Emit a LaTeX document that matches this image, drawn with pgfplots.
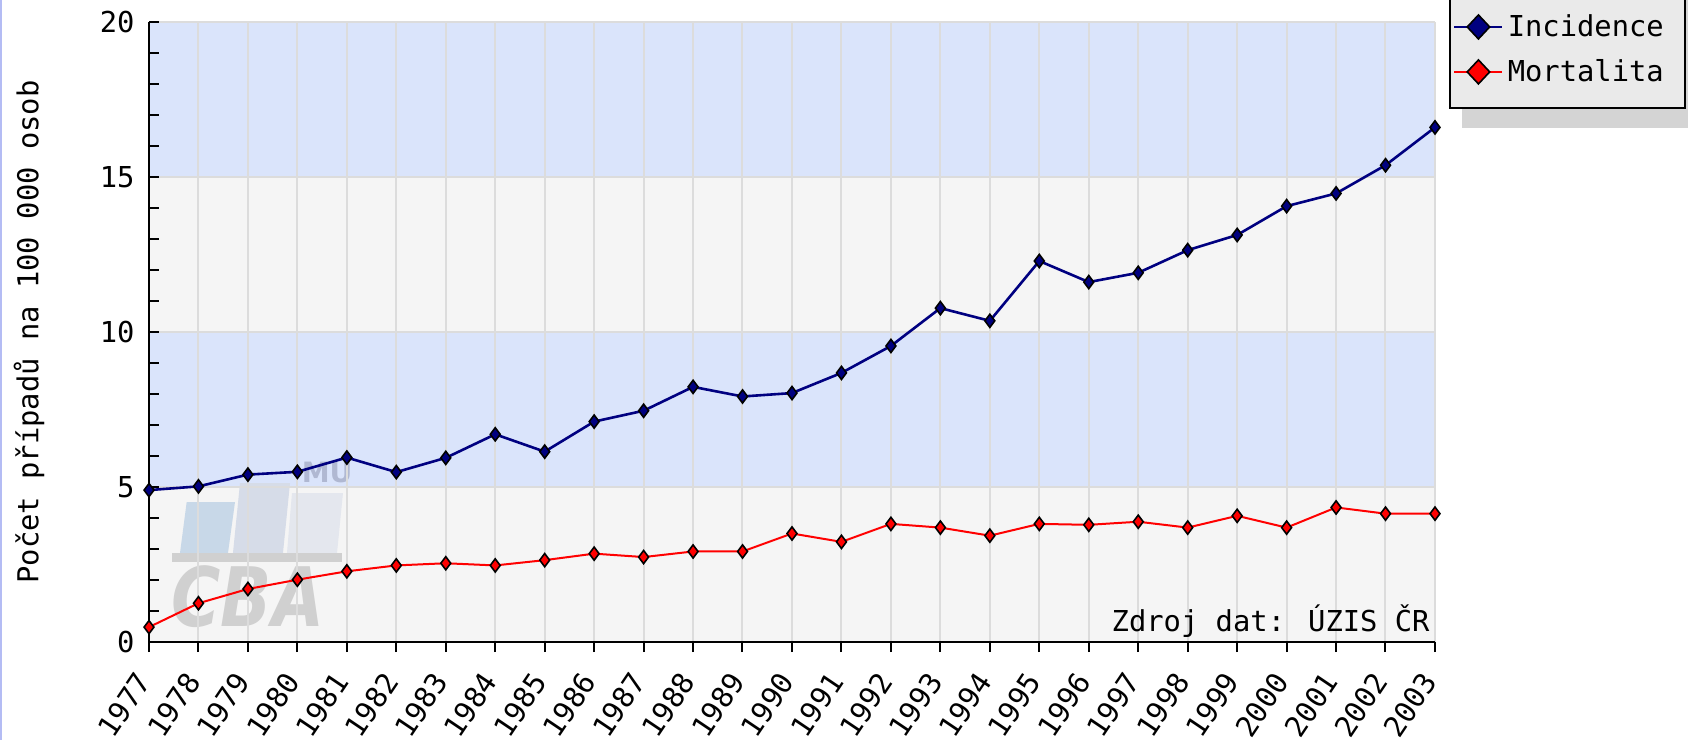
\documentclass[border=0pt]{standalone}
\usepackage{fontspec}
\setmainfont{DejaVu Sans Mono}
\newfontfamily\wmfont{DejaVu Sans}
\usepackage{pgfplots}
\pgfplotsset{compat=1.18}

\definecolor{bandblue}{RGB}{218,228,251}
\definecolor{bandgray}{RGB}{245,245,245}
\definecolor{gridgray}{RGB}{220,220,220}
\definecolor{navy}{RGB}{0,0,128}
\definecolor{legfill}{RGB}{234,234,234}
\definecolor{shadowgray}{RGB}{212,212,212}
\definecolor{edgeblue}{RGB}{180,188,244}
\definecolor{wmA}{RGB}{200,216,232}
\definecolor{wmB}{RGB}{214,220,232}
\definecolor{wmC}{RGB}{228,231,238}
\definecolor{wmgray}{RGB}{208,208,208}
\definecolor{wmmu}{RGB}{176,184,210}

\newcommand\mono{\fontsize{14.4}{17}\selectfont}

\pgfplotstableread{
year inc mort
1977 4.90 0.48
1978 5.02 1.25
1979 5.40 1.71
1980 5.49 2.01
1981 5.95 2.28
1982 5.48 2.47
1983 5.94 2.54
1984 6.70 2.47
1985 6.14 2.64
1986 7.11 2.85
1987 7.46 2.74
1988 8.23 2.92
1989 7.92 2.92
1990 8.03 3.50
1991 8.68 3.23
1992 9.55 3.81
1993 10.77 3.69
1994 10.36 3.43
1995 12.29 3.81
1996 11.61 3.78
1997 11.91 3.88
1998 12.64 3.69
1999 13.13 4.07
2000 14.06 3.69
2001 14.47 4.34
2002 15.38 4.14
2003 16.60 4.14
}\data

\begin{document}
\begin{tikzpicture}
% legend shadow
\fill[shadowgray] (731pt,306pt) rectangle (850pt,380pt);
\begin{axis}[
  set layers,
  at={(74.5pt,49pt)}, anchor=south west,
  scale only axis, width=643pt, height=310pt,
  xmin=1977, xmax=2003, ymin=0, ymax=20,
  xtick={1977,...,2003}, ytick={0,5,...,20},
  minor y tick num=4,
  axis lines*=left,
  axis line style={-, black, line width=1pt},
  tick align=inside,
  major tick length=5pt, minor tick length=5pt,
  tick style={black, line width=1pt},
  xtick style={yshift=-5pt},
  grid=major,
  grid style={gridgray, line width=1pt},
  clip=false,
  /pgf/number format/assume math mode=true,
  tick label style={font=\mono},
  xticklabel style={/pgf/number format/1000 sep={}, inner sep=0pt, xshift=-2.5pt, yshift=-17pt, rotate=56, anchor=east},
  yticklabel style={xshift=-3.7pt},
  ylabel={Počet případů na 100 000 osob},
  every axis y label/.style={at={(axis description cs:-0.0933,0.5)}, rotate=90, anchor=center, font=\mono},
  legend style={at={(1.011,0.859)}, anchor=south west, draw=black, line width=1pt,
    fill=legfill, font=\mono, inner xsep=1.5pt, inner ysep=10pt, row sep=6pt},
  legend cell align=left,
  legend image code/.code={\draw[mark repeat=2, mark phase=2, mark size=6pt,
    every mark/.append style={xscale=1.25}]
    plot coordinates {(0pt,0pt) (12pt,0pt) (24pt,0pt)};},
]
\begin{pgfonlayer}{axis background}
  \fill[bandgray] (axis cs:1977,0) rectangle (axis cs:2003,5);
  \fill[bandblue] (axis cs:1977,5) rectangle (axis cs:2003,10);
  \fill[bandgray] (axis cs:1977,10) rectangle (axis cs:2003,15);
  \fill[bandblue] (axis cs:1977,15) rectangle (axis cs:2003,20);
  % faint CBA watermark
  \fill[wmA] (axis cs:1977.627,2.871) -- (axis cs:1978.597,2.871) -- (axis cs:1978.739,4.516) -- (axis cs:1977.762,4.516) -- cycle;
  \fill[wmB] (axis cs:1978.698,2.871) -- (axis cs:1979.709,2.871) -- (axis cs:1979.851,5.129) -- (axis cs:1978.840,5.129) -- cycle;
  \fill[wmC] (axis cs:1979.790,2.871) -- (axis cs:1980.801,2.871) -- (axis cs:1980.922,4.806) -- (axis cs:1979.891,4.806) -- cycle;
  \fill[wmgray] (axis cs:1977.465,2.871) rectangle (axis cs:1980.902,2.581);
  \node[wmgray, font=\wmfont\fontsize{41}{41}\selectfont\bfseries\itshape, xscale=0.82, inner sep=0pt] at (axis cs:1979.0,1.45) {CBA};
  \node[wmmu, font=\wmfont\fontsize{14}{14}\selectfont\bfseries, inner sep=0pt] at (axis cs:1980.6,5.48) {MU};
\end{pgfonlayer}
\addplot[navy, line width=1.3pt, mark=diamond*, mark size=3.3pt,
  mark options={fill=navy, draw=black, line width=0.8pt}] table[x=year, y=inc] {\data};
\addlegendentry{Incidence\kern7pt}
\addplot[red, line width=1pt, mark=diamond*, mark size=3.3pt,
  mark options={fill=red, draw=black, line width=0.8pt}] table[x=year, y=mort] {\data};
\addlegendentry{Mortalita\kern7pt}
\node[anchor=base east, inner sep=0pt, font=\mono, xshift=-2.5pt, yshift=5.5pt] at (rel axis cs:1,0) {Zdroj dat: ÚZIS ČR};
\end{axis}
\pgfresetboundingbox
\fill[edgeblue] (0,0) rectangle (1pt,370pt);
\useasboundingbox (0,0) rectangle (844pt,370pt);
\end{tikzpicture}
\end{document}
